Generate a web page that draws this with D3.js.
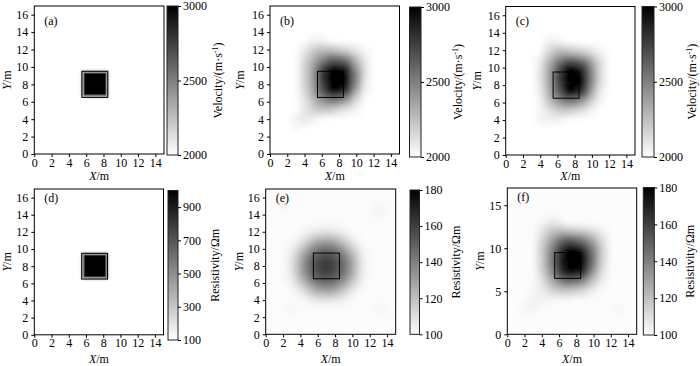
<!DOCTYPE html>
<html>
<head>
<meta charset="utf-8">
<script src="https://cdn.jsdelivr.net/npm/d3@7"></script>
<style>
  body { margin: 0; background: #fff; }
  svg { display: block; font-family: "Liberation Serif", "Times New Roman", serif; }
</style>
</head>
<body>
<script>
const WIDTH = 700;
const HEIGHT = 366;

// ticks
const xTicks = [0, 2, 4, 6, 8, 10, 12, 14];
const yTicks = [0, 2, 4, 6, 8, 10, 12, 14, 16];
const yTicksF = [0, 5, 10, 15];
const velTicks = [2000, 2500, 3000];
const resTicksD = [100, 300, 500, 700, 900];
const resTicksEF = [100, 120, 140, 160, 180];
const panelNames = ["(a)", "(b)", "(c)", "(d)", "(e)", "(f)"];

// true anomaly outline (m)
const boxX = [5.5, 8.5];
const boxY = [6.5, 9.5];

// fields on a 1 m grid: [x, y, value]; cells not listed hold the background value
const velBgA = 2000;
const velA = [
  [6, 9, 3000], [7, 9, 3000], [8, 9, 3000],
  [6, 8, 3000], [7, 8, 3000], [8, 8, 3000],
  [6, 7, 3000], [7, 7, 3000], [8, 7, 3000]
];

const velBgB = 2000;
const velB = [
  [5, 13, 2050], [6, 13, 2050],
  [4, 12, 2080], [5, 12, 2200], [6, 12, 2250], [7, 12, 2250], [8, 12, 2200], [9, 12, 2150], [10, 12, 2080], [11, 12, 2030],
  [4, 11, 2150], [5, 11, 2300], [6, 11, 2450], [7, 11, 2600], [8, 11, 2600], [9, 11, 2500], [10, 11, 2250], [11, 11, 2080],
  [4, 10, 2180], [5, 10, 2380], [6, 10, 2700], [7, 10, 3000], [8, 10, 3000], [9, 10, 2850], [10, 10, 2400], [11, 10, 2120],
  [4, 9, 2180], [5, 9, 2400], [6, 9, 2800], [7, 9, 3000], [8, 9, 3000], [9, 9, 3000], [10, 9, 2500], [11, 9, 2120],
  [4, 8, 2180], [5, 8, 2380], [6, 8, 2750], [7, 8, 3000], [8, 8, 3000], [9, 8, 3000], [10, 8, 2450], [11, 8, 2080],
  [4, 7, 2150], [5, 7, 2350], [6, 7, 2650], [7, 7, 2950], [8, 7, 2950], [9, 7, 2750], [10, 7, 2300], [11, 7, 2040],
  [4, 6, 2100], [5, 6, 2250], [6, 6, 2400], [7, 6, 2500], [8, 6, 2500], [9, 6, 2350], [10, 6, 2120],
  [4, 5, 2100], [5, 5, 2180], [6, 5, 2220], [7, 5, 2200], [8, 5, 2120], [9, 5, 2080], [10, 5, 2030],
  [3, 4, 2050], [4, 4, 2100], [5, 4, 2050],
  [3, 3, 2030]
];

const velBgC = 2000;
const velC = [
  [5, 13, 2050], [6, 13, 2050],
  [5, 12, 2150], [6, 12, 2250], [7, 12, 2250], [8, 12, 2200], [9, 12, 2150], [10, 12, 2100], [11, 12, 2030],
  [4, 11, 2060], [5, 11, 2250], [6, 11, 2450], [7, 11, 2600], [8, 11, 2600], [9, 11, 2500], [10, 11, 2300], [11, 11, 2120],
  [4, 10, 2100], [5, 10, 2330], [6, 10, 2650], [7, 10, 3000], [8, 10, 3000], [9, 10, 2800], [10, 10, 2450], [11, 10, 2150],
  [4, 9, 2100], [5, 9, 2350], [6, 9, 2750], [7, 9, 3000], [8, 9, 3000], [9, 9, 2950], [10, 9, 2500], [11, 9, 2150],
  [4, 8, 2100], [5, 8, 2330], [6, 8, 2700], [7, 8, 3000], [8, 8, 3000], [9, 8, 2950], [10, 8, 2450], [11, 8, 2120],
  [4, 7, 2060], [5, 7, 2300], [6, 7, 2600], [7, 7, 2950], [8, 7, 2950], [9, 7, 2750], [10, 7, 2350], [11, 7, 2060],
  [4, 6, 2040], [5, 6, 2220], [6, 6, 2380], [7, 6, 2500], [8, 6, 2500], [9, 6, 2350], [10, 6, 2150], [11, 6, 2030],
  [4, 5, 2030], [5, 5, 2100], [6, 5, 2180], [7, 5, 2200], [8, 5, 2150], [9, 5, 2100], [10, 5, 2030],
  [4, 4, 2050], [5, 4, 2050], [6, 4, 2050]
];

const resBgD = 100;
const resD = [
  [6, 9, 1000], [7, 9, 1000], [8, 9, 1000],
  [6, 8, 1000], [7, 8, 1000], [8, 8, 1000],
  [6, 7, 1000], [7, 7, 1000], [8, 7, 1000]
];

const resBgE = 101;
const resE = [
  [2, 15, 104], [13, 15, 104], [13, 14, 104],
  [5, 12, 104], [6, 12, 107], [7, 12, 108], [8, 12, 107], [9, 12, 104],
  [4, 11, 106], [5, 11, 117], [6, 11, 127], [7, 11, 130], [8, 11, 127], [9, 11, 117], [10, 11, 106],
  [3, 10, 104], [4, 10, 117], [5, 10, 134], [6, 10, 145], [7, 10, 148], [8, 10, 145], [9, 10, 134], [10, 10, 117], [11, 10, 104],
  [3, 9, 107], [4, 9, 127], [5, 9, 145], [6, 9, 156], [7, 9, 160], [8, 9, 156], [9, 9, 145], [10, 9, 127], [11, 9, 107],
  [3, 8, 108], [4, 8, 130], [5, 8, 148], [6, 8, 160], [7, 8, 166], [8, 8, 160], [9, 8, 148], [10, 8, 130], [11, 8, 108],
  [3, 7, 107], [4, 7, 127], [5, 7, 145], [6, 7, 156], [7, 7, 160], [8, 7, 156], [9, 7, 145], [10, 7, 127], [11, 7, 107],
  [3, 6, 104], [4, 6, 117], [5, 6, 134], [6, 6, 145], [7, 6, 148], [8, 6, 145], [9, 6, 134], [10, 6, 117], [11, 6, 104],
  [4, 5, 106], [5, 5, 117], [6, 5, 127], [7, 5, 130], [8, 5, 127], [9, 5, 117], [10, 5, 106],
  [5, 4, 104], [6, 4, 107], [7, 4, 108], [8, 4, 107], [9, 4, 104],
  [3, 3, 104], [13, 3, 104], [14, 2, 103]
];

const resBgF = 101;
const resF = [
  [4, 13, 103], [5, 13, 108], [6, 13, 106],
  [4, 12, 108], [5, 12, 118], [6, 12, 122], [7, 12, 120], [8, 12, 118], [9, 12, 115], [10, 12, 110], [11, 12, 104],
  [4, 11, 112], [5, 11, 128], [6, 11, 142], [7, 11, 152], [8, 11, 148], [9, 11, 140], [10, 11, 126], [11, 11, 110],
  [4, 10, 115], [5, 10, 136], [6, 10, 160], [7, 10, 178], [8, 10, 180], [9, 10, 165], [10, 10, 140], [11, 10, 115],
  [4, 9, 115], [5, 9, 140], [6, 9, 170], [7, 9, 180], [8, 9, 180], [9, 9, 178], [10, 9, 145], [11, 9, 115],
  [4, 8, 115], [5, 8, 138], [6, 8, 168], [7, 8, 180], [8, 8, 180], [9, 8, 176], [10, 8, 142], [11, 8, 112],
  [4, 7, 112], [5, 7, 132], [6, 7, 160], [7, 7, 176], [8, 7, 176], [9, 7, 162], [10, 7, 130], [11, 7, 108],
  [4, 6, 108], [5, 6, 122], [6, 6, 136], [7, 6, 145], [8, 6, 142], [9, 6, 132], [10, 6, 116], [11, 6, 104],
  [3, 5, 103], [4, 5, 105], [5, 5, 112], [6, 5, 116], [7, 5, 116], [8, 5, 114], [9, 5, 110], [10, 5, 104],
  [3, 4, 104], [4, 4, 105], [5, 4, 103], [6, 4, 102], [7, 4, 102],
  [2, 3, 103], [3, 3, 104], [13, 3, 103],
  [2, 2, 102], [7, 2, 102]
];

const VEL_LABEL = "vel";
const RES_LABEL = "res";

// layout of each panel (plot box, colour bar box, label spots)
const panels = [
  { cells: velA, bg: velBgA, domain: [2000, 3000], cTicks: velTicks, yTicks: yTicks, label: VEL_LABEL,
    left: 34.3, right: 164, top: 6, bottom: 154, bar: [167, 178, 6, 155], barLabelX: 222, yLabelX: 11, xLabelY: 179.5, blur: 1.6, inner: true },
  { cells: velB, bg: velBgB, domain: [2000, 3000], cTicks: velTicks, yTicks: yTicks, label: VEL_LABEL,
    left: 270, right: 399.5, top: 6, bottom: 154, bar: [409.5, 421, 7, 157], barLabelX: 462, yLabelX: 243.5, xLabelY: 179.5, blur: 3.8 },
  { cells: velC, bg: velBgC, domain: [2000, 3000], cTicks: velTicks, yTicks: yTicks, label: VEL_LABEL,
    left: 505.7, right: 635, top: 6.5, bottom: 155, bar: [642, 654, 6.5, 157], barLabelX: 696, yLabelX: 481, xLabelY: 180, blur: 3.8 },
  { cells: resD, bg: resBgD, domain: [100, 1000], cTicks: resTicksD, yTicks: yTicks, label: RES_LABEL,
    left: 34.3, right: 163.5, top: 189, bottom: 334.8, bar: [168, 178, 190.5, 340], barLabelX: 218.5, yLabelX: 11, xLabelY: 362.5, blur: 1.6, inner: true },
  { cells: resE, bg: resBgE, domain: [100, 180], cTicks: resTicksEF, yTicks: yTicks, label: RES_LABEL,
    left: 265.7, right: 395.7, top: 189, bottom: 334.3, bar: [410, 419.5, 190, 334.3], barLabelX: 460, yLabelX: 243, xLabelY: 362.5, blur: 5 },
  { cells: resF, bg: resBgF, domain: [100, 180], cTicks: resTicksEF, yTicks: yTicksF, label: RES_LABEL,
    left: 507.3, right: 636.7, top: 188, bottom: 334.3, bar: [643.3, 654.3, 187.5, 335], barLabelX: 694, yLabelX: 484, xLabelY: 362.5, blur: 3.8 }
];

const SVG = d3.select("body")
  .append("svg")
  .attr("width", WIDTH)
  .attr("height", HEIGHT);

const defs = SVG.append("defs");

const styleAxis = (g) => {
  g.select(".domain").remove();
  g.attr("font-family", null).attr("font-size", 12);
  g.selectAll("line").attr("stroke", "#000");
  g.selectAll("text").attr("fill", "#000");
};

panels.forEach((p, i) => {
  const x = d3.scaleLinear().domain([0, 15]).range([p.left, p.right]);
  const y = d3.scaleLinear().domain([0, 17]).range([p.bottom, p.top]);
  const gray = d3.scaleLinear().domain(p.domain).range(["#ffffff", "#000000"]).clamp(true);

  defs.append("clipPath").attr("id", "clip" + i)
    .append("rect")
    .attr("x", p.left).attr("y", p.top)
    .attr("width", p.right - p.left).attr("height", p.bottom - p.top);

  defs.append("filter").attr("id", "blur" + i)
    .attr("filterUnits", "userSpaceOnUse")
    .attr("x", p.left - 30).attr("y", p.top - 30)
    .attr("width", p.right - p.left + 60).attr("height", p.bottom - p.top + 60)
    .append("feGaussianBlur").attr("stdDeviation", p.blur);

  // field
  const heat = SVG.append("g").attr("clip-path", `url(#clip${i})`)
    .append("g").attr("filter", `url(#blur${i})`);
  heat.append("rect")
    .attr("x", p.left - 20).attr("y", p.top - 20)
    .attr("width", p.right - p.left + 40).attr("height", p.bottom - p.top + 40)
    .attr("fill", gray(p.bg));
  heat.selectAll("rect.cell")
    .data(p.cells)
    .join("rect")
    .attr("class", "cell")
    .attr("x", (d) => x(d[0] - 0.5))
    .attr("y", (d) => y(d[1] + 0.5))
    .attr("width", x(1) - x(0))
    .attr("height", y(0) - y(1))
    .attr("shape-rendering", "crispEdges")
    .attr("fill", (d) => gray(d[2]));

  // anomaly outline
  if (p.inner) {
    SVG.append("rect")
      .attr("x", x(boxX[0]) + 1.4).attr("y", y(boxY[1]) + 1.4)
      .attr("width", x(boxX[1]) - x(boxX[0]) - 2.8)
      .attr("height", y(boxY[0]) - y(boxY[1]) - 2.8)
      .attr("fill", "none").attr("stroke", "#aaa").attr("stroke-width", 0.6);
  }
  SVG.append("rect")
    .attr("x", x(boxX[0])).attr("y", y(boxY[1]))
    .attr("width", x(boxX[1]) - x(boxX[0]))
    .attr("height", y(boxY[0]) - y(boxY[1]))
    .attr("fill", "none").attr("stroke", "#000").attr("stroke-width", 1);

  // axes
  SVG.append("g")
    .attr("transform", `translate(0,${p.bottom})`)
    .call(d3.axisBottom(x).tickValues(xTicks).tickSize(3).tickPadding(1).tickSizeOuter(0))
    .call(styleAxis);
  SVG.append("g")
    .attr("transform", `translate(${p.left},0)`)
    .call(d3.axisLeft(y).tickValues(p.yTicks).tickSize(3).tickPadding(3).tickSizeOuter(0))
    .call(styleAxis);

  SVG.append("rect")
    .attr("x", p.left).attr("y", p.top)
    .attr("width", p.right - p.left).attr("height", p.bottom - p.top)
    .attr("fill", "none").attr("stroke", "#000").attr("stroke-width", 1);

  // panel tag
  SVG.append("text")
    .attr("x", p.left + 10)
    .attr("y", p.top + (i < 3 ? 18.5 : 12.5))
    .attr("font-size", 12)
    .text(panelNames[i]);

  // axis titles
  const xt = SVG.append("text")
    .attr("x", (p.left + p.right) / 2)
    .attr("y", p.xLabelY)
    .attr("text-anchor", "middle")
    .attr("font-size", 12);
  xt.append("tspan").attr("font-style", "italic").text("X");
  xt.append("tspan").text("/m");

  const yt = SVG.append("text")
    .attr("transform", `translate(${p.yLabelX},${(p.top + p.bottom) / 2}) rotate(-90)`)
    .attr("text-anchor", "middle")
    .attr("font-size", 12);
  yt.append("tspan").attr("font-style", "italic").text("Y");
  yt.append("tspan").text("/m");

  // colour bar
  const [bx0, bx1, by0, by1] = p.bar;
  const c = d3.scaleLinear().domain(p.domain).range([by1, by0]);
  const grad = defs.append("linearGradient").attr("id", "grad" + i)
    .attr("x1", 0).attr("y1", 1).attr("x2", 0).attr("y2", 0);
  grad.selectAll("stop")
    .data(p.domain)
    .join("stop")
    .attr("offset", (d, k) => k)
    .attr("stop-color", (d) => gray(d));

  SVG.append("rect")
    .attr("x", bx0).attr("y", by0)
    .attr("width", bx1 - bx0).attr("height", by1 - by0)
    .attr("fill", `url(#grad${i})`)
    .attr("stroke", "#222").attr("stroke-width", 1);

  SVG.append("g")
    .attr("transform", `translate(${bx1},0)`)
    .call(d3.axisRight(c).tickValues(p.cTicks).tickFormat(d3.format("d"))
      .tickSize(3).tickPadding(2).tickSizeOuter(0))
    .call(styleAxis);

  const bt = SVG.append("text")
    .attr("transform", `translate(${p.barLabelX},${(by0 + by1) / 2}) rotate(-90)`)
    .attr("text-anchor", "middle")
    .attr("font-size", 12);
  if (p.label === VEL_LABEL) {
    bt.append("tspan").text("Velocity/(m·s");
    bt.append("tspan").attr("font-size", 8).attr("dy", -4.5).text("-1");
    bt.append("tspan").attr("dy", 4.5).text(")");
  } else {
    bt.text("Resistivity/Ωm");
  }
});
</script>
</body>
</html>
